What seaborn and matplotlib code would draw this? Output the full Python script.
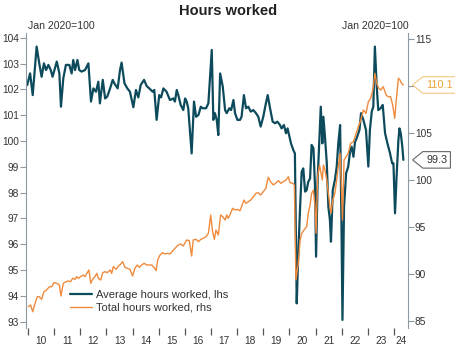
import matplotlib
matplotlib.use('Agg')
import matplotlib.pyplot as plt
import numpy as np
import pandas as pd
import seaborn as sns
from matplotlib.path import Path
from matplotlib.ticker import FixedLocator, NullFormatter

sns.set_style('white')
plt.rcParams['font.family'] = ['Liberation Sans', 'DejaVu Sans']

DARK = '#0d4b5c'
ORANGE = '#f08a3c'
SPINE = '#8c9aa3'
TEXT = '#333333'

# Average hours worked, Jan 2020=100 (left axis)
avg_years = [
    2009.97, 2010.08, 2010.18, 2010.33, 2010.43, 2010.52, 2010.61, 2010.69, 2010.78, 2010.87,
    2010.94, 2011.10, 2011.20, 2011.26, 2011.35, 2011.45, 2011.58, 2011.67, 2011.73, 2011.80,
    2011.89, 2011.96, 2012.05, 2012.18, 2012.31, 2012.41, 2012.50, 2012.60, 2012.69, 2012.75,
    2012.86, 2012.95, 2013.03, 2013.14, 2013.24, 2013.30, 2013.43, 2013.52, 2013.58, 2013.69,
    2013.80, 2013.90, 2014.03, 2014.13, 2014.22, 2014.31, 2014.44, 2014.54, 2014.64, 2014.77,
    2014.83, 2014.92, 2015.02, 2015.09, 2015.18, 2015.30, 2015.43, 2015.56, 2015.62, 2015.69,
    2015.75, 2015.84, 2015.94, 2016.01, 2016.07, 2016.13, 2016.26, 2016.35, 2016.43, 2016.52,
    2016.61, 2016.68, 2016.81, 2016.90, 2017.03, 2017.09, 2017.15, 2017.22, 2017.28, 2017.35,
    2017.45, 2017.54, 2017.60, 2017.70, 2017.77, 2017.86, 2017.92, 2018.01, 2018.11, 2018.17,
    2018.26, 2018.34, 2018.43, 2018.52, 2018.62, 2018.72, 2018.81, 2018.90, 2019.00, 2019.10,
    2019.17, 2019.26, 2019.36, 2019.45, 2019.54, 2019.64, 2019.70, 2019.79, 2019.87, 2019.93,
    2020.00, 2020.06, 2020.15, 2020.21, 2020.28, 2020.34, 2020.41, 2020.47, 2020.53, 2020.60,
    2020.66, 2020.72, 2020.79, 2020.85, 2020.92, 2020.98, 2021.02, 2021.08, 2021.15, 2021.20,
    2021.26, 2021.30, 2021.36, 2021.43, 2021.49, 2021.55, 2021.59, 2021.66, 2021.74, 2021.81,
    2021.87, 2021.94, 2021.99, 2022.03, 2022.09, 2022.17, 2022.25, 2022.32, 2022.38, 2022.45,
    2022.51, 2022.57, 2022.68, 2022.74, 2022.83, 2022.93, 2023.02, 2023.08, 2023.15, 2023.21,
    2023.27, 2023.34, 2023.40, 2023.49, 2023.57, 2023.66, 2023.75, 2023.85, 2023.93, 2023.98,
    2024.04, 2024.10, 2024.17, 2024.21, 2024.26, 2024.32, 2024.36,
]
avg_values = [
    102.17, 102.62, 101.78, 103.66, 103.01, 102.49, 103.01, 102.75, 102.95, 102.75,
    102.49, 103.08, 102.62, 101.33, 102.43, 102.95, 102.95, 102.62, 103.14, 102.75,
    103.14, 102.75, 102.69, 102.75, 103.01, 101.53, 102.04, 101.91, 102.30, 101.46,
    102.37, 101.65, 101.72, 102.04, 102.37, 102.24, 102.04, 102.75, 103.04, 102.24,
    102.04, 101.91, 101.31, 101.98, 101.69, 102.17, 102.37, 102.13, 102.04, 101.91,
    101.98, 100.82, 101.78, 101.69, 102.04, 101.91, 101.59, 101.65, 101.53, 101.98,
    101.78, 101.40, 101.20, 101.65, 101.53, 101.27, 99.52, 101.53, 100.94, 101.01,
    101.33, 101.27, 101.27, 101.46, 103.53, 100.82, 101.08, 100.82, 100.23, 102.62,
    102.11, 101.20, 101.08, 101.27, 101.20, 101.59, 101.08, 100.82, 100.82, 100.94,
    101.78, 101.27, 101.33, 101.14, 101.20, 101.08, 100.94, 100.56, 100.94, 101.46,
    101.78, 101.27, 100.75, 100.69, 100.75, 100.62, 100.49, 100.62, 100.30, 100.49,
    100.17, 99.91, 99.65, 99.52, 93.71, 95.65, 97.46, 98.81, 98.94, 98.04,
    98.10, 98.42, 98.55, 99.85, 99.72, 98.23, 95.52, 98.49, 100.17, 101.33,
    99.91, 100.94, 100.17, 99.14, 97.46, 96.94, 96.10, 98.10, 98.49, 99.01,
    99.91, 100.62, 96.94, 93.07, 97.46, 98.75, 99.01, 99.59, 99.78, 99.39,
    99.97, 100.10, 100.43, 101.08, 100.82, 100.43, 99.01, 100.43, 101.14, 101.33,
    103.66, 102.11, 101.20, 101.27, 101.40, 100.30, 99.91, 99.52, 99.14, 99.14,
    97.20, 98.62, 100.04, 100.49, 100.30, 99.78, 99.27,
]

# Total hours worked, Jan 2020=100 (right axis)
total_years = [
    2010.01, 2010.10, 2010.18, 2010.27, 2010.36, 2010.43, 2010.52, 2010.61, 2010.71, 2010.82,
    2010.91, 2010.99, 2011.10, 2011.20, 2011.26, 2011.35, 2011.45, 2011.54, 2011.63, 2011.71,
    2011.80, 2011.86, 2011.93, 2012.01, 2012.12, 2012.18, 2012.24, 2012.33, 2012.40, 2012.47,
    2012.56, 2012.63, 2012.69, 2012.78, 2012.86, 2012.95, 2013.03, 2013.14, 2013.20, 2013.26,
    2013.37, 2013.46, 2013.55, 2013.62, 2013.71, 2013.80, 2013.90, 2014.00, 2014.09, 2014.18,
    2014.26, 2014.35, 2014.44, 2014.54, 2014.64, 2014.73, 2014.82, 2014.90, 2014.96, 2015.05,
    2015.15, 2015.24, 2015.33, 2015.43, 2015.56, 2015.62, 2015.75, 2015.84, 2015.94, 2016.07,
    2016.17, 2016.26, 2016.32, 2016.43, 2016.52, 2016.61, 2016.71, 2016.81, 2016.90, 2016.99,
    2017.06, 2017.13, 2017.19, 2017.28, 2017.37, 2017.45, 2017.54, 2017.60, 2017.66, 2017.75,
    2017.83, 2017.92, 2018.01, 2018.11, 2018.17, 2018.26, 2018.34, 2018.43, 2018.52, 2018.62,
    2018.72, 2018.81, 2018.90, 2019.00, 2019.10, 2019.19, 2019.28, 2019.39, 2019.49, 2019.58,
    2019.67, 2019.77, 2019.87, 2019.96, 2020.02, 2020.13, 2020.19, 2020.25, 2020.34, 2020.41,
    2020.47, 2020.56, 2020.66, 2020.72, 2020.79, 2020.85, 2020.92, 2020.98, 2021.02, 2021.08,
    2021.15, 2021.21, 2021.26, 2021.30, 2021.36, 2021.43, 2021.49, 2021.55, 2021.59, 2021.66,
    2021.74, 2021.81, 2021.87, 2021.94, 2021.99, 2022.03, 2022.09, 2022.17, 2022.25, 2022.34,
    2022.45, 2022.55, 2022.64, 2022.73, 2022.83, 2022.93, 2023.02, 2023.11, 2023.19, 2023.27,
    2023.34, 2023.42, 2023.49, 2023.59, 2023.70, 2023.78, 2023.87, 2023.95, 2024.03, 2024.10,
    2024.17, 2024.23, 2024.29, 2024.36,
]
total_values = [
    86.52, 86.70, 85.99, 86.88, 87.59, 87.59, 87.31, 88.12, 88.30, 88.65,
    88.65, 89.08, 89.01, 88.83, 87.66, 89.01, 89.18, 89.26, 89.18, 89.54,
    89.43, 89.72, 89.54, 89.72, 89.89, 89.72, 90.00, 90.43, 89.01, 89.43,
    89.72, 90.07, 89.54, 89.36, 90.14, 90.25, 90.14, 90.43, 90.07, 90.78,
    90.50, 90.85, 91.06, 91.31, 90.71, 90.60, 90.50, 89.79, 90.60, 90.96,
    90.71, 90.96, 91.14, 90.96, 90.96, 90.96, 90.71, 90.36, 91.49, 92.02,
    92.27, 92.13, 92.20, 92.13, 92.55, 92.73, 93.09, 93.19, 92.98, 93.62,
    93.55, 91.91, 93.62, 93.69, 93.44, 93.69, 93.80, 93.97, 94.33, 96.28,
    94.50, 93.69, 94.68, 94.15, 96.28, 96.10, 95.74, 96.28, 95.92, 96.46,
    96.99, 96.81, 96.88, 96.73, 97.16, 97.87, 97.52, 97.69, 97.87, 98.23,
    98.58, 98.65, 98.40, 98.76, 99.12, 100.29, 99.82, 99.47, 99.72, 99.93,
    99.65, 99.82, 100.00, 100.35, 99.72, 99.65, 99.47, 89.36, 91.14, 93.62,
    94.33, 94.68, 95.04, 96.46, 97.34, 98.58, 98.94, 97.16, 94.33, 100.35,
    101.60, 100.71, 100.00, 101.60, 101.06, 100.00, 98.58, 97.16, 96.46, 97.87,
    98.58, 100.00, 101.42, 102.84, 99.29, 95.74, 102.13, 102.48, 102.84, 103.90,
    104.08, 104.97, 105.67, 106.38, 107.45, 107.09, 108.33, 108.69, 109.57, 111.35,
    110.28, 109.76, 109.57, 109.93, 109.04, 108.86, 108.86, 107.98, 106.56, 108.86,
    110.82, 110.64, 110.28, 110.11,
]

year_labels = ['10', '11', '12', '13', '14', '15', '16', '17', '18', '19', '20', '21', '22', '23', '24']
left_ticks = list(range(93, 105))
right_ticks = [85, 90, 95, 100, 105, 110, 115]
# the 110 label sits under the end-value tag in the original
right_tick_labels = ['85', '90', '95', '100', '105', '', '115']
X_LIM = (2009.923, 2024.537)


def callout(x0, y0, width, height, mutation_size):
    """Box with a chevron pointing left, like the end-value tags."""
    pad = 0.3 * mutation_size
    x0, y0 = x0 - pad, y0 - pad
    width, height = width + 2 * pad, height + 2 * pad
    tip = 0.62 * height
    return Path(
        [(x0, y0), (x0 + width, y0), (x0 + width, y0 + height), (x0, y0 + height),
         (x0 - tip, y0 + height / 2), (x0, y0)],
        closed=True,
    )


def main() -> None:
    avg_df = pd.DataFrame({'year': avg_years, 'value': avg_values})
    total_df = pd.DataFrame({'year': total_years, 'value': total_values})

    fig = plt.figure(figsize=(4.56, 3.51), dpi=100)
    ax = fig.add_axes([26 / 456, 1 - 328 / 351, 382 / 456, 295 / 351])
    ax2 = ax.twinx()

    sns.lineplot(data=avg_df, x='year', y='value', ax=ax, color=DARK, linewidth=1.6,
                 label='Average hours worked, lhs', legend=False)
    sns.lineplot(data=total_df, x='year', y='value', ax=ax2, color=ORANGE, linewidth=1.0,
                 label='Total hours worked, rhs', legend=False)

    ax.set_xlim(*X_LIM)
    ax.set_ylim(92.756, 104.186)
    ax2.set_ylim(84.255, 115.64)
    for a in (ax, ax2):
        a.set_xlabel('')
        a.set_ylabel('')
        for side in ('top', 'bottom'):
            a.spines[side].set_visible(False)
    ax.spines['right'].set_visible(False)
    ax2.spines['left'].set_visible(False)
    ax.spines['left'].set_color(SPINE)
    ax2.spines['right'].set_color(SPINE)

    ax.set_yticks(left_ticks)
    ax2.set_yticks(right_ticks)
    ax2.set_yticklabels(right_tick_labels)
    ax.tick_params(axis='y', left=True, length=4, width=0.8, color=SPINE, pad=1,
                   labelsize=7.3, labelcolor=TEXT)
    ax2.tick_params(axis='y', right=True, length=4, width=0.8, color=SPINE, pad=1,
                    labelsize=7.3, labelcolor=TEXT)

    # year boundaries as ticks, labels centred between them
    years = np.arange(2010, 2025)
    ax.xaxis.set_major_locator(FixedLocator(years))
    ax.xaxis.set_major_formatter(NullFormatter())
    mids = [y + 0.5 for y in years[:-1]] + [(2024 + X_LIM[1]) / 2]
    ax.xaxis.set_minor_locator(FixedLocator(mids))
    ax.set_xticklabels(year_labels, minor=True)
    ax.tick_params(axis='x', which='major', bottom=True, length=5, width=0.9, color='#555555')
    ax.tick_params(axis='x', which='minor', bottom=True, length=0, pad=6,
                   labelsize=7.3, labelcolor=TEXT)

    fig.text(228 / 456, 1 - 11 / 351, 'Hours worked', ha='center', va='center',
             fontsize=10.5, fontweight='bold', color='#222222')
    fig.text(28 / 456, 1 - 26 / 351, 'Jan 2020=100', ha='left', va='center',
             fontsize=7.6, color=TEXT)
    fig.text(409 / 456, 1 - 26 / 351, 'Jan 2020=100', ha='right', va='center',
             fontsize=7.6, color=TEXT)

    # end-value tags
    ax2.annotate(f'{total_values[-1]:.1f}', xy=(1, total_values[-1]),
                 xycoords=('axes fraction', 'data'), xytext=(13, 0), textcoords='offset points',
                 ha='left', va='center', fontsize=7.8, color='#e9a23b',
                 bbox=dict(boxstyle=callout, fc='white', ec='#f5c880', lw=0.8))
    ax.annotate(f'{avg_values[-1]:.1f}', xy=(1, avg_values[-1]),
                xycoords=('axes fraction', 'data'), xytext=(13, 0), textcoords='offset points',
                ha='left', va='center', fontsize=7.8, color=TEXT,
                bbox=dict(boxstyle=callout, fc='white', ec='#666666', lw=0.8))

    handles = ax.get_lines()[:1] + ax2.get_lines()[:1]
    ax2.legend(handles=handles, labels=[h.get_label() for h in handles],
               loc='lower left', bbox_to_anchor=(44 / 382, 15 / 295), frameon=False,
               fontsize=8, handlelength=2.0, handletextpad=0.35, labelspacing=0.25,
               borderpad=0, borderaxespad=0, labelcolor=TEXT)

    fig.savefig('out.png', dpi=100)


if __name__ == '__main__':
    main()
